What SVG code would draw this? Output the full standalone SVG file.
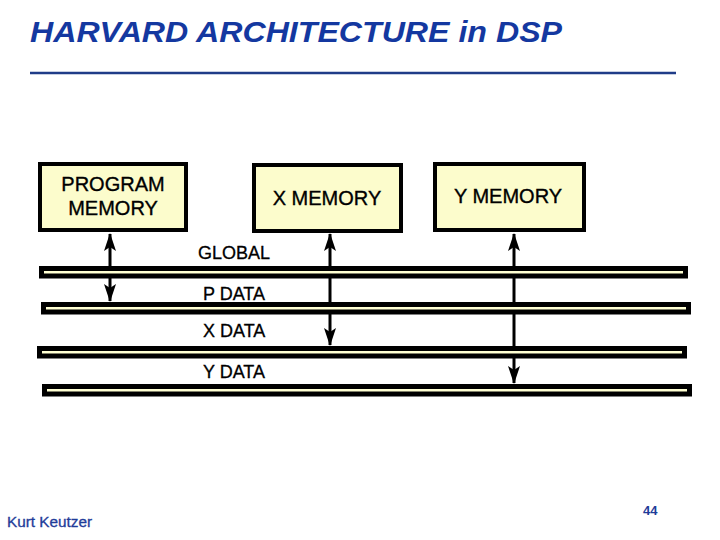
<svg xmlns="http://www.w3.org/2000/svg" width="720" height="540" viewBox="0 0 720 540">
  <style>
    .box { fill: #FCFCCC; stroke: #000; stroke-width: 4; }
    .bus { fill: #FFFFD2; stroke: #000; stroke-width: 5; }
    .lbl { font-family: "Liberation Sans", Arial, sans-serif; font-size: 20px; fill: #000; stroke: #000; stroke-width: 0.35; text-anchor: middle; }
    .bl { font-family: "Liberation Sans", Arial, sans-serif; font-size: 18px; fill: #000; stroke: #000; stroke-width: 0.3; }
    .conn { stroke: #000; stroke-width: 3; fill: none; marker-start: url(#ah); marker-end: url(#ah); }
  </style>
  <defs>
    <marker id="ah" markerUnits="userSpaceOnUse" viewBox="0 0 18 12" refX="17" refY="6" markerWidth="18" markerHeight="12" orient="auto-start-reverse">
      <path d="M0,0 L18,6 L0,12 L4,6 Z" fill="#000"/>
    </marker>
  </defs>
  <rect width="720" height="540" fill="#fff"/>
  <g id="title">
    <text x="30" y="42" font-family="'Liberation Sans', Arial, sans-serif" font-size="30" font-style="italic" font-weight="bold" fill="#1438A0" textLength="532" lengthAdjust="spacingAndGlyphs">HARVARD ARCHITECTURE in DSP</text>
    <line x1="30" y1="73" x2="676" y2="73" stroke="#1F3C88" stroke-width="2.5"/>
  </g>
  <g id="connectors">
    <line class="conn" x1="110" y1="234" x2="110" y2="301"/>
    <line class="conn" x1="330" y1="234" x2="330" y2="345"/>
    <line class="conn" x1="514" y1="234" x2="514" y2="383"/>
  </g>
  <g id="program-memory">
    <rect class="box" x="40" y="164" width="146" height="66"/>
    <text class="lbl" x="113" y="191">PROGRAM</text>
    <text class="lbl" x="113" y="215">MEMORY</text>
  </g>
  <g id="x-memory">
    <rect class="box" x="254" y="165" width="147" height="66"/>
    <text class="lbl" x="327" y="205">X MEMORY</text>
  </g>
  <g id="y-memory">
    <rect class="box" x="435" y="164" width="149" height="66"/>
    <text class="lbl" x="508" y="203">Y MEMORY</text>
  </g>
  <g id="global-bus">
    <rect class="bus" x="41.5" y="268.5" width="644" height="7.5"/>
    <text class="bl" x="198" y="259">GLOBAL</text>
  </g>
  <g id="p-data-bus">
    <rect class="bus" x="43.5" y="304.5" width="645" height="7.5"/>
    <text class="bl" x="203" y="300">P DATA</text>
  </g>
  <g id="x-data-bus">
    <rect class="bus" x="39.5" y="348.5" width="645" height="7.5"/>
    <text class="bl" x="203" y="337">X DATA</text>
  </g>
  <g id="y-data-bus">
    <rect class="bus" x="44.5" y="386.5" width="645" height="7.5"/>
    <text class="bl" x="203" y="378">Y DATA</text>
  </g>
  <g id="footer">
    <text x="7" y="527" font-family="'Liberation Sans', Arial, sans-serif" font-size="14" fill="#1F3C99" stroke="#1F3C99" stroke-width="0.3" textLength="85" lengthAdjust="spacingAndGlyphs">Kurt Keutzer</text>
    <text x="643" y="515" font-family="'Liberation Sans', Arial, sans-serif" font-size="13" font-weight="bold" fill="#1F3C99">44</text>
  </g>
</svg>
